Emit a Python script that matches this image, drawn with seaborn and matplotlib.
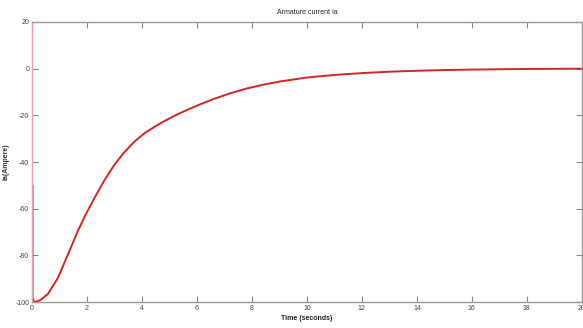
import matplotlib
matplotlib.use("Agg")
import matplotlib.pyplot as plt
import seaborn as sns
import pandas as pd

# data
time_s = [0.02, 0.02, 0.06, 0.12, 0.3, 0.58, 0.95, 1.31, 1.67, 1.93, 2.29, 2.65,
          3.02, 3.38, 3.75, 4.11, 4.5, 4.84, 5.2, 5.56, 6.11, 6.58, 7.2,
          7.81, 8.4, 9.02, 10.0, 11.0, 12.0, 13.0, 14.0, 15.0, 16.0, 17.0,
          18.0, 19.0, 20.0]
current_a = [-50.0, -98.0, -99.6, -99.9, -99.2, -96.5, -89.5, -79.5, -69.5, -63.0,
             -55.0, -47.5, -40.8, -35.5, -31.0, -27.5, -24.6, -22.3, -20.1, -18.1,
             -15.3, -13.1, -10.6, -8.5, -6.9, -5.5, -3.8, -2.7, -1.9, -1.3,
             -0.9, -0.6, -0.4, -0.25, -0.15, -0.08, 0.0]
xticks = [0, 2, 4, 6, 8, 10, 12, 14, 16, 18, 20]
yticks = [20, 0, -20, -40, -60, -80, -100]

sns.set_theme(style="white")
plt.rcParams['font.family'] = ['Liberation Sans', 'DejaVu Sans']

df = pd.DataFrame({"t": time_s, "ia": current_a})

fig = plt.figure(figsize=(5.83, 3.28), dpi=100)
ax = fig.add_axes([0.0549, 0.079, 0.943, 0.854])
sns.lineplot(data=df, x="t", y="ia", sort=False, estimator=None,
             color="#d42424", linewidth=1.4, ax=ax)

ax.set_xlim(0, 20)
ax.set_ylim(-100, 20)
ax.set_xticks(xticks)
ax.set_yticks(yticks)
ax.set_xticklabels([str(v) for v in xticks])
ax.set_yticklabels([str(v) for v in yticks])

for name, sp in ax.spines.items():
    sp.set_color("#9a9a9a")
    sp.set_linewidth(1.0)
ax.spines['left'].set_color("#e8a0aa")

ax.tick_params(direction="in", length=4, width=0.8, color="#8a8a8a",
               labelsize=5, labelcolor="#444444", top=True, right=True,
               bottom=True, left=True, pad=2)

ax.set_title("Armature current ia", fontsize=5, color="#222222", pad=6)
ax.set_xlabel("Time (seconds)", fontsize=5, color="#222222", labelpad=2, fontweight="bold")
ax.set_ylabel("ia(Ampere)", fontsize=5, color="#333333", labelpad=4, fontweight="bold")

fig.savefig("out.png", dpi=100, facecolor="white")
